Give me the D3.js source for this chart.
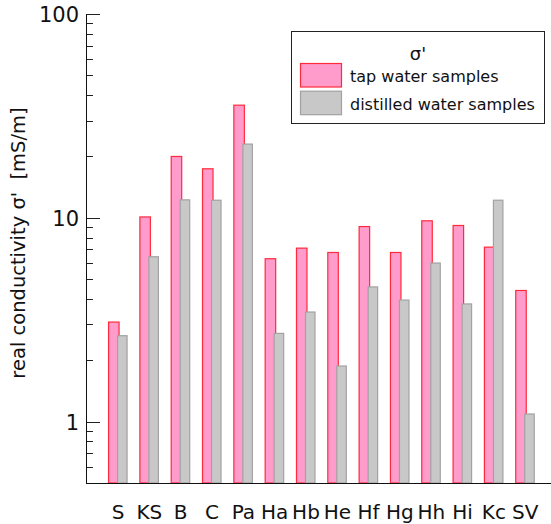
<!DOCTYPE html>
<html>
<head>
<meta charset="utf-8">
<script src="https://cdn.jsdelivr.net/npm/d3@7"></script>
<style>
  body { margin: 0; background: #fff; }
  text { font-family: "DejaVu Sans", sans-serif; fill: #111; }
</style>
</head>
<body>
<script>
var samples = ['S', 'KS', 'B', 'C', 'Pa', 'Ha', 'Hb', 'He', 'Hf', 'Hg', 'Hh', 'Hi', 'Kc', 'SV'];
var tapWater = [3.08, 10.1, 20.0, 17.4, 35.7, 6.3, 7.1, 6.76, 9.06, 6.76, 9.67, 9.17, 7.18, 4.4];
var distilledWater = [2.64, 6.44, 12.25, 12.2, 23.0, 2.71, 3.45, 1.875, 4.58, 3.95, 6.0, 3.78, 12.2, 1.09];
var yTickLabels = [1, 10, 100];
var seriesNames = ['tap water samples', 'distilled water samples'];

var w = 551;
var h = 524;
var svg = d3.select('body').append('svg')
            .attr('width', w)
            .attr('height', h);

var x = d3.scaleBand()
          .domain(samples)
          .range([102.4, 540.9])
          .padding(0);

var y = d3.scaleLog()
          .domain([0.5, 100])
          .range([483, 14]);

// minor ticks
var minor = [];
[0.1, 1, 10].forEach(function(dec){
  for (var k = 2; k <= 9; k++) {
    var v = k * dec;
    if (v > 0.5 && v < 100) minor.push(v);
  }
});

svg.append('g')
   .selectAll('line')
   .data(minor)
   .enter()
   .append('line')
   .attr('x1', 86)
   .attr('x2', 93)
   .attr('y1', function(d){ return Math.round(y(d)) + 0.5; })
   .attr('y2', function(d){ return Math.round(y(d)) + 0.5; })
   .attr('stroke', '#222')
   .attr('stroke-width', 1);

svg.append('g')
   .selectAll('line')
   .data(yTickLabels)
   .enter()
   .append('line')
   .attr('x1', 86)
   .attr('x2', 100)
   .attr('y1', function(d){ return Math.round(y(d)) + 0.5; })
   .attr('y2', function(d){ return Math.round(y(d)) + 0.5; })
   .attr('stroke', '#222')
   .attr('stroke-width', 1);

svg.append('g')
   .selectAll('text')
   .data(yTickLabels)
   .enter()
   .append('text')
   .attr('x', 79)
   .attr('y', function(d){ return y(d) + 8; })
   .attr('text-anchor', 'end')
   .style('font-size', '21px')
   .text(function(d){ return d; });

// bars
var bw = x.bandwidth();
svg.append('g')
   .selectAll('rect')
   .data(samples)
   .enter()
   .append('rect')
   .attr('x', function(d){ return x(d) + bw / 2 - 10 + 0.5; })
   .attr('y', function(d, i){ return y(tapWater[i]); })
   .attr('width', 10.5)
   .attr('height', function(d, i){ return y(0.5) - y(tapWater[i]); })
   .attr('fill', '#ff9ccc')
   .attr('stroke', '#ff2a3a')
   .attr('stroke-width', 1.2);

svg.append('g')
   .selectAll('rect')
   .data(samples)
   .enter()
   .append('rect')
   .attr('x', function(d){ return x(d) + bw / 2 - 1 + 0.5; })
   .attr('y', function(d, i){ return y(distilledWater[i]); })
   .attr('width', 9.5)
   .attr('height', function(d, i){ return y(0.5) - y(distilledWater[i]); })
   .attr('fill', '#c8c8c8')
   .attr('stroke', '#a2a2a2')
   .attr('stroke-width', 1.2);

// axes lines
svg.append('line')
   .attr('x1', 86.5).attr('x2', 86.5)
   .attr('y1', y(100)).attr('y2', 483.5)
   .attr('stroke', '#111');
svg.append('line')
   .attr('x1', 86).attr('x2', w)
   .attr('y1', 483.5).attr('y2', 483.5)
   .attr('stroke', '#111');

svg.append('g')
   .selectAll('text')
   .data(samples)
   .enter()
   .append('text')
   .attr('x', function(d){ return x(d) + bw / 2; })
   .attr('y', 519)
   .attr('text-anchor', 'middle')
   .style('font-size', '20px')
   .text(function(d){ return d; });

svg.append('text')
   .attr('transform', 'translate(25,243) rotate(-90)')
   .attr('text-anchor', 'middle')
   .style('font-size', '19.5px')
   .style('white-space', 'pre')
   .text("real conductivity σ'  [mS/m]");

// legend
var legend = svg.append('g');
legend.append('rect')
      .attr('x', 291.5).attr('y', 31.5)
      .attr('width', 253).attr('height', 92)
      .attr('fill', '#fff')
      .attr('stroke', '#222');
legend.append('text')
      .attr('x', 418).attr('y', 60)
      .attr('text-anchor', 'middle')
      .style('font-size', '18px')
      .text("σ'");
var swatchFill = ['#ff9ccc', '#c8c8c8'];
var swatchStroke = ['#ff2a3a', '#a2a2a2'];
seriesNames.forEach(function(name, i){
  legend.append('rect')
        .attr('x', 300.5).attr('y', 63.5 + i * 27.7)
        .attr('width', 41).attr('height', 23.5)
        .attr('fill', swatchFill[i])
        .attr('stroke', swatchStroke[i])
        .attr('stroke-width', 1.2);
  legend.append('text')
        .attr('x', 350).attr('y', 82 + i * 27.7)
        .style('font-size', '16px')
        .text(name);
});
</script>
</body>
</html>
